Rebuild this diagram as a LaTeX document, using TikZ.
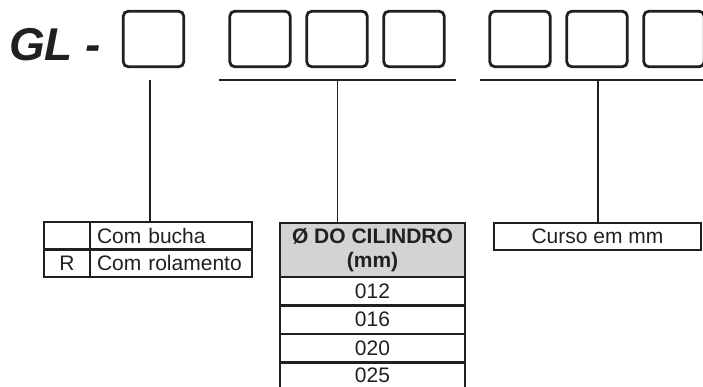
\documentclass[tikz,border=0pt]{standalone}
\usepackage{fontspec}
\setmainfont{Liberation Sans}
\definecolor{ink}{RGB}{35,31,32}
\definecolor{headgray}{RGB}{209,211,212}

\begin{document}
\begin{tikzpicture}[%
            x=1pt, y=-1pt,
            digit/.style={shape=rectangle, draw=ink, line width=2.8pt, rounded corners=5pt,
                          minimum width=60.5pt, minimum height=55.5pt, inner sep=0pt},
            cell/.style={shape=rectangle, draw=ink, line width=2.1pt, anchor=north west,
                         inner sep=0pt, outer sep=0pt, text=ink,
                         font=\fontsize{21}{23.5}\selectfont},
            link/.style={draw=ink, line width=1.8pt}
        ]
        \useasboundingbox (0,0) rectangle (703,386);
        \clip (0,0) rectangle (703,386);

        \node [anchor=base west, inner sep=0pt, text=ink,
               font=\fontsize{46}{46}\selectfont\bfseries\itshape] (gl) at (9,60) {GL -};

        \node [digit] (d1) at (153.5,39) {};
        \node [digit] (d2) at (260,39) {};
        \node [digit] (d3) at (337,39) {};
        \node [digit] (d4) at (414,39) {};
        \node [digit] (d5) at (520,39) {};
        \node [digit] (d6) at (597,39) {};
        \node [digit] (d7) at (674,39) {};

        \coordinate (u0) at (150,80);
        \coordinate (u1a) at (219,80);
        \coordinate (u1) at (337.5,80);
        \coordinate (u1b) at (456,80);
        \coordinate (u2a) at (480,80);
        \coordinate (u2) at (598,80);
        \coordinate (u2b) at (710,80);

        \draw [link] (u1a) -- (u1b);
        \draw [link] (u2a) -- (u2b);

        \node [cell, minimum width=46pt, minimum height=27.5pt] (blank) at (44,222) {};
        \node [cell, minimum width=162pt, minimum height=27.5pt, text width=148pt,
               inner xsep=7pt, align=left] (bucha) at (blank.north east) {Com bucha};
        \node [cell, minimum width=46pt, minimum height=27.5pt] (rkey) at (blank.south west) {R};
        \node [cell, minimum width=162pt, minimum height=27.5pt, text width=148pt,
               inner xsep=7pt, align=left] (rolam) at (rkey.north east) {Com rolamento};

        \node [cell, fill=headgray, minimum width=185pt, minimum height=54pt, align=center,
               font=\fontsize{21}{23.5}\selectfont\bfseries] (diam) at (280,223)
              {Ø DO CILINDRO\\(mm)};
        \node [cell, minimum width=185pt, minimum height=28.5pt] (d012) at (diam.south west) {012};
        \node [cell, minimum width=185pt, minimum height=28.5pt] (d016) at (d012.south west) {016};
        \node [cell, minimum width=185pt, minimum height=28.5pt] (d020) at (d016.south west) {020};
        \node [cell, minimum width=185pt, minimum height=25.5pt] (d025) at (d020.south west) {025};

        \node [cell, minimum width=207pt, minimum height=27pt] (curso) at (494,223) {Curso em mm};

        \draw [link] (u0) -- (u0 |- bucha.north);
        \draw [link] (u1) -- (u1 |- diam.north);
        \draw [link] (u2) -- (u2 |- curso.north);
    \end{tikzpicture}
\end{document}
